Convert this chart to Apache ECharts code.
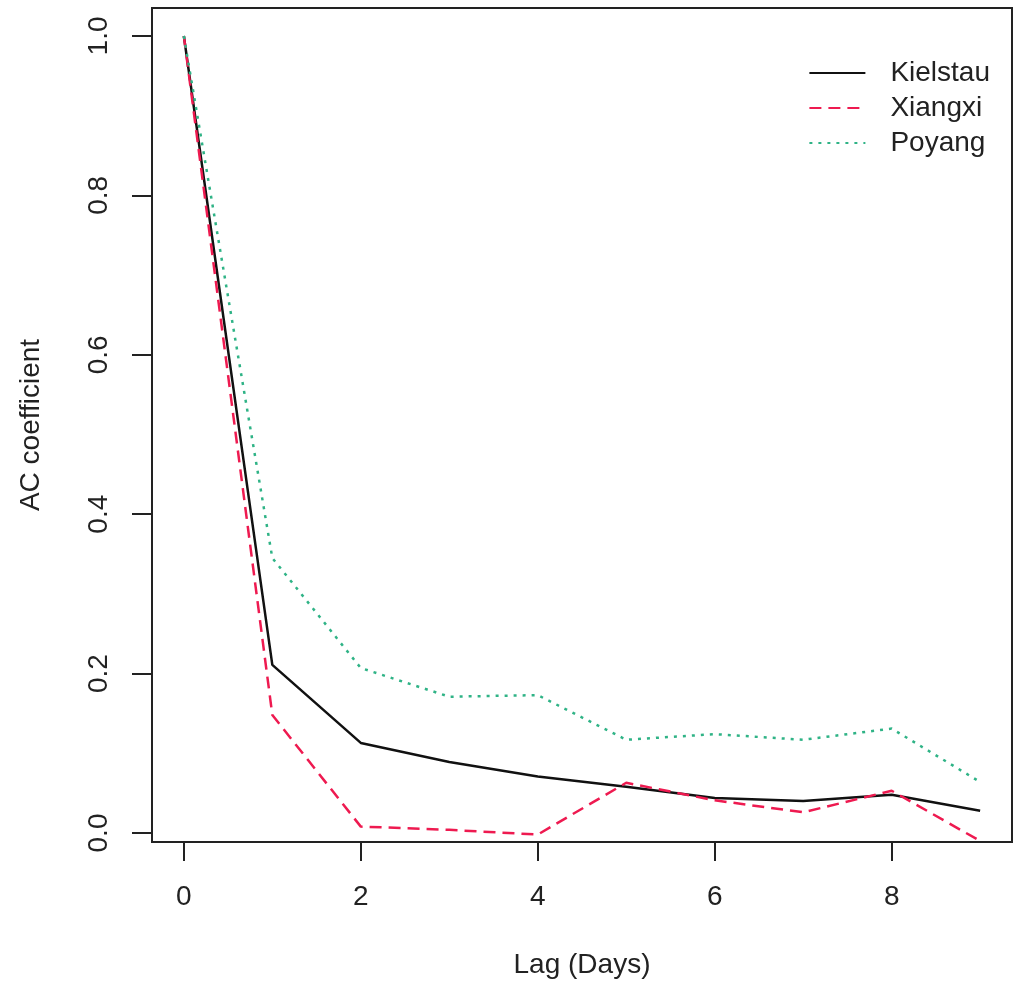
<!DOCTYPE html>
<html>
<head>
<meta charset="utf-8">
<script src="https://cdn.jsdelivr.net/npm/echarts@6/dist/echarts.min.js"></script>
<style>
  html, body { margin: 0; padding: 0; background: #fff; }
  #chart { width: 1013px; height: 983px; }
</style>
</head>
<body>
<div id="chart"></div>
<script>
// lag in days
var lags = [0, 1, 2, 3, 4, 5, 6, 7, 8, 9]
// AC coefficient per site
var kielstau = [1.0, 0.211, 0.113, 0.089, 0.071, 0.058, 0.044, 0.040, 0.048, 0.028]
var xiangxi = [1.0, 0.148, 0.008, 0.004, -0.002, 0.063, 0.041, 0.026, 0.053, -0.010]
var poyang = [1.0, 0.345, 0.207, 0.171, 0.173, 0.117, 0.124, 0.117, 0.131, 0.064]
// tick labels
var xTicks = [0, 2, 4, 6, 8]
var yTicks = [0, 0.2, 0.4, 0.6, 0.8, 1.0]

var FONT = "'Liberation Sans', Arial, sans-serif"
var TXT = '#222'

function pairs (ys) {
  return lags.map(function (x, i) { return [x, ys[i]] })
}

var chart = echarts.init(document.getElementById('chart'))

chart.setOption({
  animation: false,
  backgroundColor: '#fff',
  grid: {
    left: 152, right: 1, top: 8, bottom: 141,
    show: true, borderColor: '#222', borderWidth: 2,
    containLabel: false, outerBoundsMode: 'none'
  },
  legend: {
    right: 18, top: 54,
    orient: 'vertical',
    itemWidth: 56, itemHeight: 14, itemGap: 7,
    // 只要线，不要圆点
    itemStyle: { opacity: 0 },
    textStyle: { fontFamily: FONT, fontSize: 28, color: TXT, padding: [0, 0, 0, 20] },
    data: ['Kielstau', 'Xiangxi', 'Poyang']
  },
  xAxis: {
    type: 'value', min: -0.36, max: 9.36,
    name: 'Lag (Days)', nameLocation: 'middle', nameGap: 109,
    nameTextStyle: { fontFamily: FONT, fontSize: 28, color: TXT },
    axisLine: { show: false, onZero: false },
    axisTick: { show: true, inside: false, length: 19, customValues: xTicks, lineStyle: { color: '#222', width: 2 } },
    axisLabel: { customValues: xTicks, margin: 41, fontFamily: FONT, fontSize: 28, color: TXT },
    splitLine: { show: false }
  },
  yAxis: {
    type: 'value', min: -0.0113, max: 1.0351,
    name: 'AC coefficient', nameLocation: 'middle', nameGap: 107,
    nameTextStyle: { fontFamily: FONT, fontSize: 28, color: TXT },
    axisLine: { show: false, onZero: false },
    axisTick: { show: true, inside: false, length: 20, customValues: yTicks, lineStyle: { color: '#222', width: 2 } },
    axisLabel: {
      customValues: yTicks, rotate: 90, margin: 39,
      fontFamily: FONT, fontSize: 28, color: TXT,
      formatter: function (v) { return v.toFixed(1) }
    },
    splitLine: { show: false }
  },
  series: [
    {
      name: 'Kielstau', type: 'line', data: pairs(kielstau), symbol: 'none',
      lineStyle: { color: '#111', width: 2.5, type: 'solid' },
      itemStyle: { color: '#111' }
    },
    {
      name: 'Xiangxi', type: 'line', data: pairs(xiangxi), symbol: 'none',
      lineStyle: { color: '#ee1a50', width: 2.5, type: [12, 7] },
      itemStyle: { color: '#ee1a50' }
    },
    {
      name: 'Poyang', type: 'line', data: pairs(poyang), symbol: 'none',
      lineStyle: { color: '#2fb386', width: 2.5, type: [3, 6] },
      itemStyle: { color: '#2fb386' }
    }
  ]
})
</script>
</body>
</html>
